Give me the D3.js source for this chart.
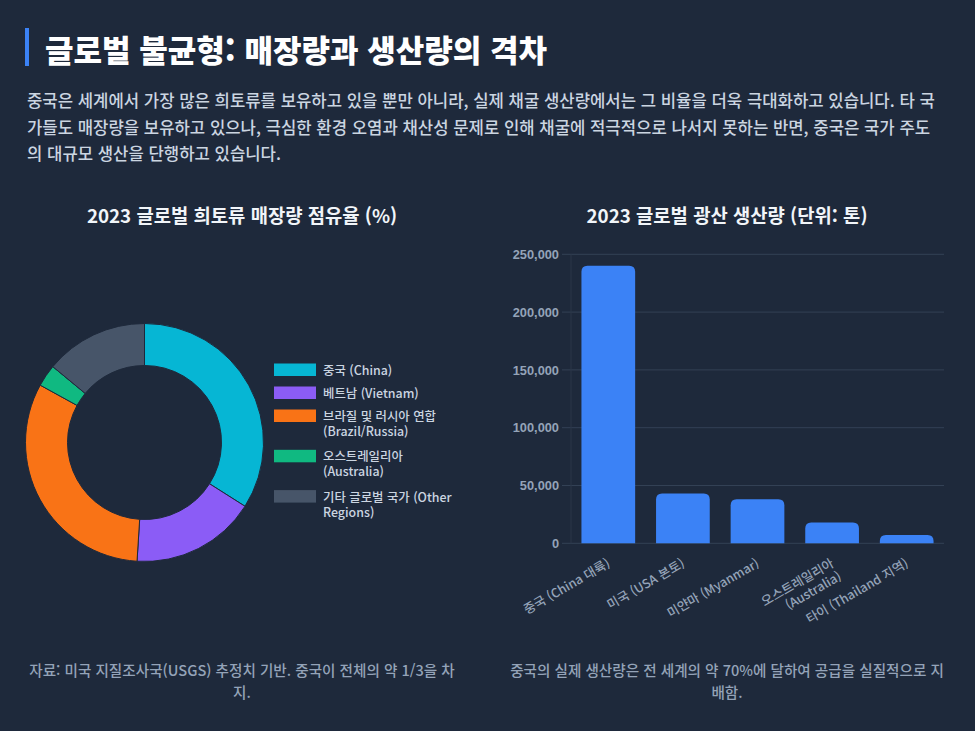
<!DOCTYPE html>
<html lang="ko">
<head>
<meta charset="utf-8">
<script src="https://cdn.jsdelivr.net/npm/d3@7"></script>
<style>
  html, body { margin: 0; padding: 0; background: #1e293b; }
  svg { display: block; }
</style>
</head>
<body>
<svg id="chart" width="975" height="731"></svg>
<script>
// 희토류 매장량 점유율 (%)
var reserveLabels = [
  ["중국 (China)"],
  ["베트남 (Vietnam)"],
  ["브라질 및 러시아 연합", "(Brazil/Russia)"],
  ["오스트레일리아", "(Australia)"],
  ["기타 글로벌 국가 (Other", "Regions)"]
];
var reserveShares = [34, 17, 32, 3, 14];
var reserveColors = ["#06b6d4", "#8b5cf6", "#f97316", "#10b981", "#475569"];

// 광산 생산량 (톤)
var prodLabels = [
  ["중국 (China 대륙)"],
  ["미국 (USA 본토)"],
  ["미얀마 (Myanmar)"],
  ["오스트레일리아", "(Australia)"],
  ["타이 (Thailand 지역)"]
];
var prodValues = [240000, 43000, 38000, 18000, 7100];
var prodTicks = [0, 50000, 100000, 150000, 200000, 250000];

var titleText = "글로벌 불균형: 매장량과 생산량의 격차";
var introLines = [
  "중국은 세계에서 가장 많은 희토류를 보유하고 있을 뿐만 아니라, 실제 채굴 생산량에서는 그 비율을 더욱 극대화하고 있습니다. 타 국",
  "가들도 매장량을 보유하고 있으나, 극심한 환경 오염과 채산성 문제로 인해 채굴에 적극적으로 나서지 못하는 반면, 중국은 국가 주도",
  "의 대규모 생산을 단행하고 있습니다."
];
var pieTitle = "2023 글로벌 희토류 매장량 점유율 (%)";
var barTitle = "2023 글로벌 광산 생산량 (단위: 톤)";
var pieNote = ["자료: 미국 지질조사국(USGS) 추정치 기반. 중국이 전체의 약 1/3을 차", "지."];
var barNote = ["중국의 실제 생산량은 전 세계의 약 70%에 달하여 공급을 실질적으로 지", "배함."];

var KR = "'Noto Sans CJK KR', 'Noto Sans', sans-serif";
var AX = "'Liberation Sans', Arial, 'Noto Sans CJK KR', sans-serif";

var svg = d3.select("#chart");

svg.append("rect")
  .attr("width", 975)
  .attr("height", 731)
  .attr("fill", "#1e293b");

// header
svg.append("rect")
  .attr("x", 25).attr("y", 28)
  .attr("width", 4).attr("height", 38)
  .attr("fill", "#3b82f6");

svg.append("text")
  .attr("x", 45).attr("y", 48)
  .attr("dominant-baseline", "central")
  .attr("font-family", KR)
  .attr("font-size", 31)
  .attr("font-weight", 900)
  .attr("fill", "#ffffff")
  .text(titleText);

svg.append("g").selectAll("text")
  .data(introLines)
  .enter()
  .append("text")
  .attr("x", 27)
  .attr("y", (d, i) => 100 + i * 26.5)
  .attr("dominant-baseline", "central")
  .attr("font-family", KR)
  .attr("font-size", 16.7)
  .attr("font-weight", 500)
  .attr("fill", "#cbd5e1")
  .text(d => d);

// section titles
[[pieTitle, 242], [barTitle, 727]].forEach(function(t) {
  svg.append("text")
    .attr("x", t[1]).attr("y", 214)
    .attr("text-anchor", "middle")
    .attr("dominant-baseline", "central")
    .attr("font-family", KR)
    .attr("font-size", 18.8)
    .attr("font-weight", 700)
    .attr("fill", "#f1f5f9")
    .text(t[0]);
});

// footnotes
[[pieNote, 242], [barNote, 727]].forEach(function(t) {
  svg.append("g").selectAll("text")
    .data(t[0])
    .enter()
    .append("text")
    .attr("x", t[1])
    .attr("y", (d, i) => 669 + i * 22)
    .attr("text-anchor", "middle")
    .attr("dominant-baseline", "central")
    .attr("font-family", KR)
    .attr("font-size", 14.6)
    .attr("font-weight", 500)
    .attr("fill", "#94a3b8")
    .text(d => d);
});

// ---- doughnut ----
var cx = 144.5, cy = 442.5, outerR = 119, innerR = 77;

var pie = d3.pie().sort(null).value(d => d);
var arc = d3.arc().innerRadius(innerR).outerRadius(outerR);

svg.append("g")
  .attr("transform", `translate(${cx}, ${cy})`)
  .selectAll("path")
  .data(pie(reserveShares))
  .enter()
  .append("path")
  .attr("d", arc)
  .attr("fill", (d, i) => reserveColors[i])
  .attr("stroke", "#1e293b")
  .attr("stroke-width", 1);

// legend
var legend = svg.append("g").attr("transform", "translate(274, 0)");
var ly = 370;
reserveLabels.forEach(function(lines, i) {
  var item = legend.append("g").attr("transform", `translate(0, ${ly})`);
  item.append("rect")
    .attr("x", 0).attr("y", -6.5)
    .attr("width", 42).attr("height", 12.5)
    .attr("fill", reserveColors[i]);
  item.selectAll("text")
    .data(lines)
    .enter()
    .append("text")
    .attr("x", 49)
    .attr("y", (d, j) => j * 15)
    .attr("dominant-baseline", "central")
    .attr("font-family", KR)
    .attr("font-size", 12.4)
    .attr("font-weight", 500)
    .attr("fill", "#cbd5e1")
    .text(d => d);
  ly += 23 + (lines.length - 1) * 17.3;
});

// ---- bar chart ----
var plotLeft = 571, plotRight = 944, plotTop = 254.3, plotBottom = 543.3;

var x = d3.scaleBand()
  .domain(d3.range(prodValues.length))
  .range([plotLeft, plotRight])
  .paddingInner(0.28)
  .paddingOuter(0.14);

var y = d3.scaleLinear()
  .domain([0, 250000])
  .range([plotBottom, plotTop]);

var grid = svg.append("g");
grid.selectAll("line")
  .data(prodTicks)
  .enter()
  .append("line")
  .attr("x1", plotLeft - 9)
  .attr("x2", plotRight)
  .attr("y1", d => y(d))
  .attr("y2", d => y(d))
  .attr("stroke", "#334155")
  .attr("stroke-width", 1);

grid.append("line")
  .attr("x1", plotLeft).attr("x2", plotLeft)
  .attr("y1", plotTop).attr("y2", plotBottom)
  .attr("stroke", "#2b3749")
  .attr("stroke-width", 1);

var yAxis = d3.axisLeft(y)
  .tickValues(prodTicks)
  .tickFormat(d3.format(","))
  .tickSize(0)
  .tickPadding(12);

svg.append("g")
  .attr("transform", `translate(${plotLeft}, 0)`)
  .call(yAxis)
  .call(g => g.select(".domain").remove())
  .selectAll("text")
  .attr("font-family", AX)
  .attr("font-size", 12.8)
  .attr("font-weight", 700)
  .attr("fill", "#94a3b8");

function roundedTop(x0, y0, w, h, r) {
  r = Math.min(r, h, w / 2);
  return `M${x0},${y0 + h}V${y0 + r}Q${x0},${y0} ${x0 + r},${y0}H${x0 + w - r}Q${x0 + w},${y0} ${x0 + w},${y0 + r}V${y0 + h}Z`;
}

svg.append("g").selectAll("path")
  .data(prodValues)
  .enter()
  .append("path")
  .attr("d", (d, i) => roundedTop(x(i), y(d), x.bandwidth(), y(0) - y(d), 6))
  .attr("fill", "#3b82f6");

// rotated category labels
var xl = svg.append("g").selectAll("g")
  .data(prodLabels)
  .enter()
  .append("g")
  .attr("transform", (d, i) => `translate(${x(i) + x.bandwidth() / 2}, ${plotBottom + 18}) rotate(-30)`);

xl.selectAll("text")
  .data(d => d)
  .enter()
  .append("text")
  .attr("x", 0)
  .attr("y", (d, j) => j * 15)
  .attr("text-anchor", "end")
  .attr("dominant-baseline", "central")
  .attr("font-family", KR)
  .attr("font-size", 12.6)
  .attr("font-weight", 500)
  .attr("fill", "#94a3b8")
  .text(d => d);
</script>
</body>
</html>
